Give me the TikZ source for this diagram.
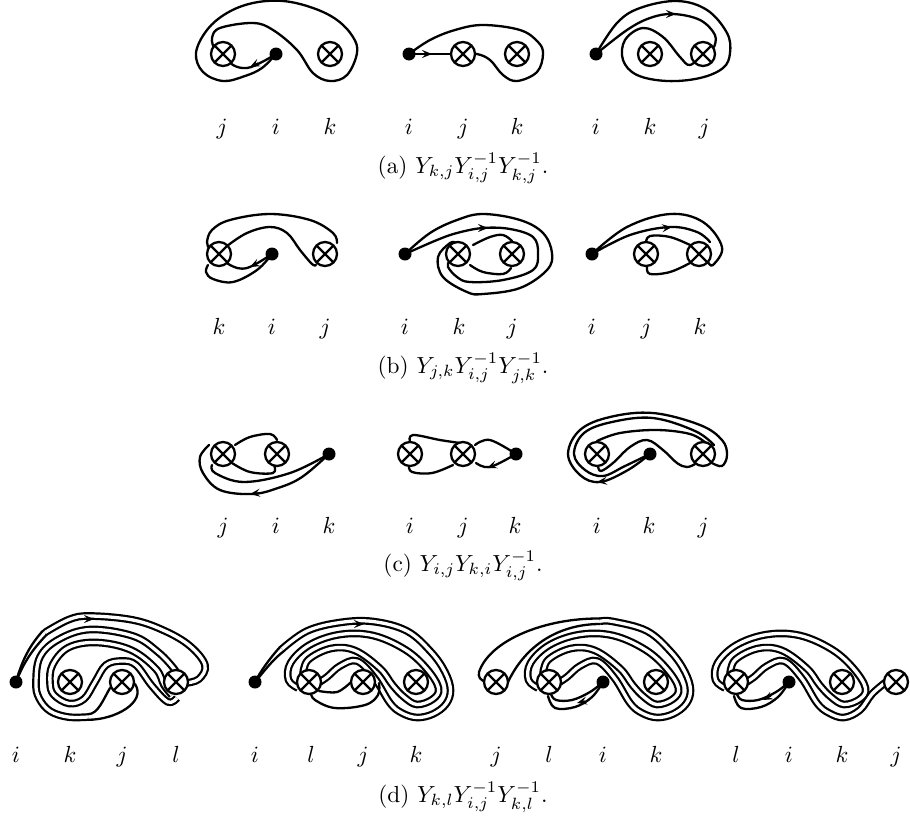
\documentclass[tikz,border=0pt]{standalone}
\usetikzlibrary{arrows.meta}
\pgfdeclarelayer{bg}
\pgfsetlayers{bg,main}
\tikzset{
  puncture/.style={circle,draw,line width=2.3pt,fill=white,minimum size=24pt,inner sep=0pt,
    path picture={\draw[line width=2.3pt] (path picture bounding box.north west)--(path picture bounding box.south east)
      (path picture bounding box.north east)--(path picture bounding box.south west);}},
  basept/.style={circle,fill=black,minimum size=13pt,inner sep=0pt},
  strandline/.style={line width=2.3pt,line cap=round,line join=round},
  pairline/.style={line width=2.2pt,double=white,double distance=3.3pt,line join=round},
  tipmark/.style={line width=1.2pt,-{Stealth[length=10pt,width=8pt,inset=4pt]}},
  lab/.style={scale=2.33},
  captext/.style={scale=2.33}
}
\newcommand{\strand}[1]{\draw[strandline] plot[smooth,tension=0.62] coordinates {#1};}
\newcommand{\pairstrand}[1]{\draw[pairline] plot[smooth,tension=0.62] coordinates {#1};}
% the nested pair shared by the last three panels of (d)
\newcommand{\hookpair}[1]{\begin{scope}[xshift=#1pt]
\pairstrand{(298,688)(288.5,680)(290.5,663)(309.5,645)(340,634.5)(373,635.5)(405,649.5)(426.5,668.5)(438.5,688)(433,699)(417,704.5)(404,697)(392.5,685)(380,668.5)(355,650.5)(331,648.5)(308,660)(303,675)}
\end{scope}}
\begin{document}
\begin{tikzpicture}[x=1pt,y=-1pt]
\useasboundingbox (0,0) rectangle (910,817);
% --- (a)
\node[puncture] (a1j) at (223,54) {}; \node[basept] (a1i) at (276,54) {}; \node[puncture] (a1k) at (330,54) {};
\node[basept] (a2i) at (409,54) {}; \node[puncture] (a2j) at (463,54) {}; \node[puncture] (a2k) at (517,54) {};
\node[basept] (a3i) at (596,54) {}; \node[puncture] (a3k) at (650,54) {}; \node[puncture] (a3j) at (703,54) {};
% --- (b)
\node[puncture] (b1k) at (219,254) {}; \node[basept] (b1i) at (272,254) {}; \node[puncture] (b1j) at (325,254) {};
\node[basept] (b2i) at (405,254) {}; \node[puncture] (b2k) at (458,254) {}; \node[puncture] (b2j) at (512,254) {};
\node[basept] (b3i) at (592,254) {}; \node[puncture] (b3j) at (646,254) {}; \node[puncture] (b3k) at (699,254) {};
% --- (c)
\node[puncture] (c1j) at (223,454) {}; \node[puncture] (c1i) at (277,454) {}; \node[basept] (c1k) at (329,454) {};
\node[puncture] (c2i) at (410,454) {}; \node[puncture] (c2j) at (463,454) {}; \node[basept] (c2k) at (516,454) {};
\node[puncture] (c3i) at (597,454) {}; \node[basept] (c3k) at (650,454) {}; \node[puncture] (c3j) at (703,454) {};
% --- (d)
\node[basept] (d1i) at (16,682) {}; \node[puncture] (d1k) at (70,682) {}; \node[puncture] (d1j) at (122,682) {}; \node[puncture] (d1l) at (176,682) {};
\node[basept] (d2i) at (255,682) {}; \node[puncture] (d2l) at (309,682) {}; \node[puncture] (d2j) at (363,682) {}; \node[puncture] (d2k) at (416,682) {};
\node[puncture] (d3j) at (496,682) {}; \node[puncture] (d3l) at (549,682) {}; \node[basept] (d3i) at (603,682) {}; \node[puncture] (d3k) at (656,682) {};
\node[puncture] (d4l) at (736,682) {}; \node[basept] (d4i) at (789,682) {}; \node[puncture] (d4k) at (842,682) {}; \node[puncture] (d4j) at (896,682) {};
% labels
\foreach \tx/\x/\y/\n in {j/222/128/la1,i/276/128/la2,k/330/128/la3,i/409/128/la4,j/463/128/la5,k/517/128/la6,i/596/128/la7,k/650/128/la8,j/704/128/la9,
 k/219/328/lb1,i/272/328/lb2,j/325/328/lb3,i/405/328/lb4,k/459/328/lb5,j/512/328/lb6,i/592/328/lb7,j/646/328/lb8,k/700/328/lb9,
 j/223/527/lc1,i/276/527/lc2,k/329/527/lc3,i/410/527/lc4,j/463/527/lc5,k/515/527/lc6,i/597/527/lc7,k/649/527/lc8,j/703/527/lc9,
 i/16/756/ld1,k/70/756/ld2,j/122/756/ld3,l/176/756/ld4,i/255/756/ld5,l/311/756/ld6,j/363/756/ld7,k/416/756/ld8,j/496/756/ld9,l/549/756/ld10,i/603/756/ld11,k/656/756/ld12,l/736/756/ld13,i/789/756/ld14,k/842/756/ld15,j/896/756/ld16}
  {\node[lab,anchor=base] (\n) at (\x,\y+6) {$\tx$};}
\node[captext,anchor=base] (capa) at (463,173) {(a) $Y_{k,j}Y_{i,j}^{-1}Y_{k,j}^{-1}$.};
\node[captext,anchor=base] (capb) at (463,373) {(b) $Y_{j,k}Y_{i,j}^{-1}Y_{j,k}^{-1}$.};
\node[captext,anchor=base] (capc) at (463,571) {(c) $Y_{i,j}Y_{k,i}Y_{i,j}^{-1}$.};
\node[captext,anchor=base] (capd) at (463,802) {(d) $Y_{k,l}Y_{i,j}^{-1}Y_{k,l}^{-1}$.};
\begin{pgfonlayer}{bg}
% (a)1
\strand{(a1i)(262,68)(245,76)(223,81)(203,72)(196,53)(207,30)(227,13)(253,3)(283,1)(313,8)(337,20)(353,37)(357,53)(347,75)(330,81)(313,73)(297,50)(273,30)(253,23)(220,28)(212,38)(214,48)}
\strand{(a1j)(233,65)(247,68)(262,62)(a1i)}
% (a)2
\strand{(a2i)(a2j)}
\strand{(a2i)(430,40)(455,30)(483,25)(520,30)(538,42)(543,54)(537,72)(517,81)(503,75)(490,60)(477,54)(a2j)}
% (a)3
\strand{(a3i)(617,23)(640,8)(677,1)(707,10)(727,33)(730,53)(723,68)(700,78)(667,81)(637,75)(623,60)(625,40)(643,28)(663,37)(680,57)(690,65)(a3j)}
\strand{(a3i)(627,30)(650,18)(673,14)(700,20)(715,35)(714,47)}
% (b)1
\strand{(209,248)(207,242)(212,230)(230,220)(270,214)(310,220)(333,233)(337,243)}
\strand{(227,246)(247,233)(270,227)(287,233)(300,250)(312,264)(316,265)}
\strand{(b1i)(247,268)(230,265)(b1k)}
\strand{(b1i)(257,270)(233,282)(213,279)(206,272)(208,265)}
% (b)2
\strand{(b2i)(430,233)(457,220)(483,214)(520,220)(543,233)(552,253)(547,270)(520,288)(483,294)(467,292)(443,277)(438,257)(450,243)(456,243)}
\strand{(b2i)(437,240)(457,233)(483,228)(510,229)(533,237)(538,253)(533,270)(503,280)(470,282)(457,277)(448,267)(449,262)}
\strand{(473,245)(490,237)(503,235)(512,241)}
\strand{(470,265)(483,272)(503,274)(511,268)}
% (b)3
\strand{(b3i)(627,227)(670,214)(703,222)(722,247)(713,265)(708,262)}
\strand{(b3i)(630,235)(670,227)(697,232)(710,242)}
\strand{(646,243)(650,236)(670,237)(690,245)}
\strand{(647,267)(650,274)(670,272)(690,263)}
% (c)1
\strand{(c1k)(302,477)(278,488)(252,494)(220,490)(203,473)(200,457)(209,445)}
\strand{(c1k)(290,473)(244,482)(215,473)(212,465)}
\strand{(232,463)(250,472)(273,473)(274,465)}
\strand{(235,445)(250,437)(270,434)(277,440)}
% (c)2
\strand{(410,442)(413,435)(440,440)(460,443)}
\strand{(409,465)(412,472)(432,473)(453,465)}
\strand{(475,445)(490,440)(c2k)}
\strand{(476,463)(490,467)(c2k)}
% (c)3
\strand{(c3k)(628,470)(600,482)(580,475)(568,454)(580,430)(610,417)(653,413)(700,425)(722,440)(727,455)(722,466)(712,463)}
\strand{(c3k)(625,466)(603,476)(585,470)(574,454)(584,433)(612,422)(653,418)(695,431)(714,445)}
\strand{(597,441)(620,433)(657,430)(690,434)(706,443)}
\strand{(598,466)(601,471)(613,463)(630,447)(647,440)(663,450)(677,463)(687,467)(695,464)}
% (d)1
\draw[strandline] (d1i.center) .. controls (22,660) and (30,645) .. (43,630.6);
\draw[strandline] (d1i.center) .. controls (24,662) and (32,650) .. (46.9,634.4);
\pairstrand{(45,632.5)(69,619.5)(90,616)(133,620)(165,631)(190,646)(205,665)(199,679)(186,683)}
\pairstrand{(178,678)(175,670)(158,652)(133,636)(90,629.5)(58.5,639.5)(40,657)(36,683)(39,698)(50,711)(68,717)(88,717)}
\draw[strandline] (88,719.75) .. controls (115,720) and (147,702) .. (135,684);
\draw[strandline] (88,714.25) .. controls (98,714) and (103,700) .. (110,688);
\pairstrand{(172,695)(164,685)(156,669)(131,650)(97,642.5)(68.5,647.5)(52.5,665)(50,683)(54,695)(69,703.5)(84,699)(95,682)(106,665)(122,661)(136,665)(152,686)(168,702)(177,698)}
% (d)2
\draw[strandline] (d2i.center) .. controls (260,672) and (270,658) .. (280,647);
\draw[strandline] (d2i.center) .. controls (262,674) and (272,660) .. (284,651);
\pairstrand{(282,649)(307,631)(340,622.5)(373,621.5)(407,631)(431,652)(445,672)(450.5,690)(446,704)(433,714)(417,717.5)(402,713)(390,703)(374.5,678)(357,661)(340,666)(327,677)(318,683)}
\hookpair{0}
\strand{(379,683)(378,695)(365,705)(335,708)(315,700)(311,693)}
\strand{(319,691)(337,692)(350,683)}
% (d)3
\draw[strandline] (600,618.5) .. controls (545,618) and (490,640) .. (479,672) .. controls (478,677) and (480,680) .. (486,682);
\draw[strandline] (600,624) .. controls (565,624) and (528,640) .. (508,682);
\pairstrand{(600,621.3)(613,621.5)(647,631)(671,652)(685,672)(690.5,690)(686,704)(673,714)(657,717.5)(642,713)(630,703)(614.5,678)(597,661)(580,666)(567,677)(558,683)}
\hookpair{240}
\strand{(d3i)(590,692)(572,700)(556,700)(551,694)}
\strand{(d3i)(592,697)(575,707)(555,708)(548,696)}
% (d)4
\pairstrand{(745,683)(754,677)(767,666)(784,661)(801.5,678)(817,703)(829,713)(844,717.5)(860,710)(872,694)(886,682)}
\hookpair{427}
\strand{(d4i)(776,692)(758,700)(742,700)(737,694)}
\strand{(d4i)(778,697)(761,707)(741,708)(734,696)}
\end{pgfonlayer}
% arrowheads
\draw[tipmark] (258,63) -- (250,67);
\draw[tipmark] (424,54) -- (432,54);
\draw[tipmark] (668,14) -- (676,14);
\draw[tipmark] (258,263) -- (250,267);
\draw[tipmark] (480,228) -- (488,228);
\draw[tipmark] (664,228) -- (672,227);
\draw[tipmark] (258,493) -- (250,494);
\draw[tipmark] (495,465) -- (487,468);
\draw[tipmark] (605,481) -- (597,482);
\draw[tipmark] (86,619) -- (94,619);
\draw[tipmark] (356,624) -- (364,624);
\draw[tipmark] (585,701) -- (577,703);
\draw[tipmark] (771,696) -- (763,700);
\end{tikzpicture}
\end{document}
